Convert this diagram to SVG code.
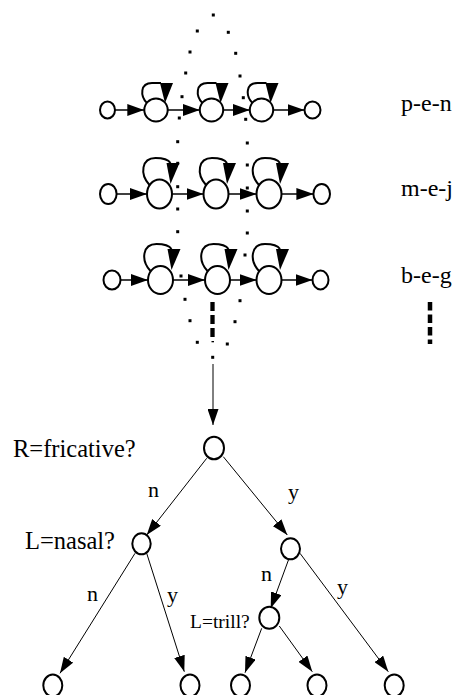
<svg xmlns="http://www.w3.org/2000/svg" xmlns:xlink="http://www.w3.org/1999/xlink" width="457" height="695" viewBox="0 0 457 695">
<style>
.st{fill:#fff;stroke:#000;stroke-width:2}
.ch{stroke:#000;stroke-width:1.5;fill:none}
.tr{stroke:#000;stroke-width:1;fill:none}
.lp{stroke:#000;stroke-width:2;fill:none}
.dot{fill:#000}
.lbl{font-family:"Liberation Serif","Times New Roman",serif;fill:#000}
</style>
<defs>
<marker id="ah" viewBox="0 0 17 12" markerWidth="17" markerHeight="12" refX="17" refY="6" markerUnits="userSpaceOnUse" orient="auto"><path d="M0,0 L17,6 L0,12 z" fill="#000"/></marker>
<marker id="at" viewBox="0 0 16 11" markerWidth="16" markerHeight="11" refX="16" refY="5.5" markerUnits="userSpaceOnUse" orient="auto"><path d="M0,0 L16,5.5 L0,11 z" fill="#000"/></marker>
<g id="loop1"><path class="lp" d="M -9 -7 C -16 -14, -16 -27, -4 -27 L 5 -27"/><polygon points="4,-27 17,-27 9,-7" fill="#000"/></g>
<g id="loop2"><path class="lp" d="M -10 -9 C -20 -20, -18 -36, -4 -36 C 4 -36, 9 -34, 11 -31"/><polygon points="7,-31 20,-31 11,-10" fill="#000"/></g>
</defs>

<g id="connectors">
<!-- row 1 -->
<line class="ch" x1="115" y1="110" x2="144.3" y2="110" marker-end="url(#ah)"/>
<line class="ch" x1="167.7" y1="110" x2="199.8" y2="110" marker-end="url(#ah)"/>
<line class="ch" x1="223.2" y1="110" x2="249.8" y2="110" marker-end="url(#ah)"/>
<line class="ch" x1="273.2" y1="110" x2="304.5" y2="110" marker-end="url(#ah)"/>
<use href="#loop1" x="156" y="110"/>
<use href="#loop1" x="211.5" y="110"/>
<use href="#loop1" x="261.5" y="110"/>
<!-- row 2 -->
<line class="ch" x1="116.6" y1="194" x2="147" y2="194" marker-end="url(#ah)"/>
<line class="ch" x1="172" y1="194" x2="203.5" y2="194" marker-end="url(#ah)"/>
<line class="ch" x1="228.5" y1="194" x2="256.5" y2="194" marker-end="url(#ah)"/>
<line class="ch" x1="281.5" y1="194" x2="313.4" y2="194" marker-end="url(#ah)"/>
<use href="#loop2" x="159.5" y="194"/>
<use href="#loop2" x="216" y="194"/>
<use href="#loop2" x="269" y="194"/>
<!-- row 3 -->
<line class="ch" x1="120.5" y1="280" x2="148" y2="280" marker-end="url(#ah)"/>
<line class="ch" x1="173" y1="280" x2="205" y2="280" marker-end="url(#ah)"/>
<line class="ch" x1="230" y1="280" x2="256.5" y2="280" marker-end="url(#ah)"/>
<line class="ch" x1="281.5" y1="280" x2="312.5" y2="280" marker-end="url(#ah)"/>
<use href="#loop2" x="160.5" y="280"/>
<use href="#loop2" x="217.5" y="280"/>
<use href="#loop2" x="269" y="280"/>
<!-- tree -->
<line class="tr" x1="213" y1="364" x2="213" y2="425" marker-end="url(#at)"/>
<line class="tr" x1="206.7" y1="458.3" x2="146.7" y2="535" marker-end="url(#at)"/>
<line class="tr" x1="223.3" y1="456.7" x2="287.3" y2="535" marker-end="url(#at)"/>
<line class="tr" x1="135" y1="553.3" x2="60" y2="673.3" marker-end="url(#at)"/>
<line class="tr" x1="146.7" y1="553.3" x2="184.3" y2="671.7" marker-end="url(#at)"/>
<line class="tr" x1="288.7" y1="559.3" x2="270.7" y2="608.3" marker-end="url(#at)"/>
<line class="tr" x1="300" y1="553.3" x2="388.3" y2="671.7" marker-end="url(#at)"/>
<line class="tr" x1="261.7" y1="628.3" x2="245" y2="672.7" marker-end="url(#at)"/>
<line class="tr" x1="279.3" y1="626" x2="312.3" y2="671.7" marker-end="url(#at)"/>
</g>

<g id="row1">
<ellipse class="st" cx="107.5" cy="110" rx="7.5" ry="8.5"/>
<ellipse class="st" cx="156" cy="110" rx="11.7" ry="11.5"/>
<ellipse class="st" cx="211.5" cy="110" rx="11.7" ry="11.5"/>
<ellipse class="st" cx="261.5" cy="110" rx="11.7" ry="11.5"/>
<ellipse class="st" cx="312.5" cy="110" rx="8" ry="8.5"/>
<text class="lbl" x="401" y="111" font-size="24">p-e-n</text>
</g>
<g id="row2">
<ellipse class="st" cx="108.3" cy="194" rx="8.3" ry="10"/>
<ellipse class="st" cx="159.5" cy="194" rx="12.5" ry="14.5"/>
<ellipse class="st" cx="216" cy="194" rx="12.5" ry="14.5"/>
<ellipse class="st" cx="269" cy="194" rx="12.5" ry="14.5"/>
<ellipse class="st" cx="321.7" cy="194" rx="8.3" ry="10"/>
<text class="lbl" x="401" y="196" font-size="24">m-e-j</text>
</g>
<g id="row3">
<ellipse class="st" cx="112" cy="280" rx="8.5" ry="9.5"/>
<ellipse class="st" cx="160.5" cy="280" rx="12.5" ry="14"/>
<ellipse class="st" cx="217.5" cy="280" rx="12.5" ry="14"/>
<ellipse class="st" cx="269" cy="280" rx="12.5" ry="14"/>
<ellipse class="st" cx="320.5" cy="280" rx="8" ry="9.5"/>
<text class="lbl" x="401" y="283" font-size="24">b-e-g</text>
</g>
<g id="list-ellipsis">
<line x1="430" y1="302" x2="430" y2="344" stroke="#000" stroke-width="4.5" stroke-dasharray="8.5 4"/>
</g>

<g id="dotted-outline">
<line x1="212.5" y1="302" x2="212.5" y2="337" stroke="#000" stroke-width="4.3" stroke-dasharray="9 4"/>
<rect x="211.5" y="341" width="2.5" height="1.3"/>
<g class="dot">
<rect x="211.8" y="13.5" width="3" height="3"/>
<rect x="195.8" y="29.5" width="3" height="3"/>
<rect x="188.5" y="50.5" width="3" height="3"/>
<rect x="184.2" y="71.5" width="3" height="3"/>
<rect x="180.5" y="95.2" width="3" height="3"/>
<rect x="177.8" y="116.5" width="3" height="3"/>
<rect x="176.2" y="140.2" width="3" height="3"/>
<rect x="176.2" y="161.8" width="3" height="3"/>
<rect x="176.2" y="185.2" width="3" height="3"/>
<rect x="176.2" y="207.5" width="3" height="3"/>
<rect x="176.2" y="230.2" width="3" height="3"/>
<rect x="179.5" y="274.5" width="3" height="3"/>
<rect x="183.5" y="297.8" width="3" height="3"/>
<rect x="188.5" y="319.2" width="3" height="3"/>
<rect x="195.8" y="340.8" width="3" height="3"/>
<rect x="211.2" y="355.8" width="3" height="3"/>
<rect x="226.8" y="30.8" width="3" height="3"/>
<rect x="234.2" y="51.8" width="3" height="3"/>
<rect x="238.5" y="74.5" width="3" height="3"/>
<rect x="241.8" y="96.2" width="3" height="3"/>
<rect x="244.2" y="117.8" width="3" height="3"/>
<rect x="245.8" y="141.5" width="3" height="3"/>
<rect x="245.8" y="163.5" width="3" height="3"/>
<rect x="245.8" y="186.5" width="3" height="3"/>
<rect x="245.8" y="209.5" width="3" height="3"/>
<rect x="245.8" y="231.5" width="3" height="3"/>
<rect x="243.5" y="253.5" width="3" height="3"/>
<rect x="238.5" y="299.2" width="3" height="3"/>
<rect x="233.5" y="320.2" width="3" height="3"/>
<rect x="225.8" y="342.5" width="3" height="3"/>
</g>
</g>

<g id="root">
<ellipse class="st" cx="214" cy="448" rx="10" ry="11.3"/>
<text class="lbl" x="13" y="457" font-size="24.5">R=fricative?</text>
</g>
<g id="nasal">
<ellipse class="st" cx="141.5" cy="543.8" rx="9.2" ry="10.5"/>
<text class="lbl" x="25" y="549" font-size="24.5">L=nasal?</text>
</g>
<g id="fric-yes">
<ellipse class="st" cx="290.5" cy="548.8" rx="9.5" ry="10.5"/>
</g>
<g id="trill">
<ellipse class="st" cx="269.3" cy="617.8" rx="10" ry="11"/>
<text class="lbl" x="190" y="628" font-size="19.5">L=trill?</text>
</g>
<g id="leaf1"><ellipse class="st" cx="52.8" cy="685.5" rx="9.5" ry="11"/></g>
<g id="leaf2"><ellipse class="st" cx="190" cy="685.5" rx="9.5" ry="11"/></g>
<g id="leaf3"><ellipse class="st" cx="240.5" cy="685.5" rx="9.5" ry="11"/></g>
<g id="leaf4"><ellipse class="st" cx="317" cy="685.5" rx="9.5" ry="11"/></g>
<g id="leaf5"><ellipse class="st" cx="394.2" cy="685.5" rx="9.5" ry="11"/></g>

<g id="edge-labels" class="lbl" font-size="22">
<text x="148" y="497">n</text>
<text x="288" y="498.5">y</text>
<text x="87" y="601">n</text>
<text x="167" y="602">y</text>
<text x="261" y="581">n</text>
<text x="337" y="594">y</text>
</g>
</svg>
